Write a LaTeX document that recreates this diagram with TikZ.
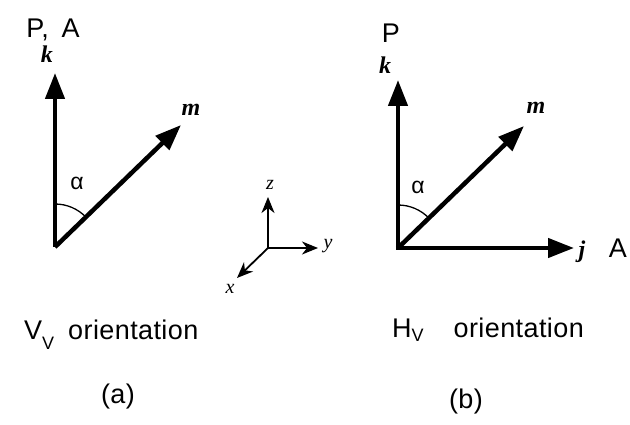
\documentclass[tikz,border=0pt]{standalone}
\usepackage{fontspec}
\setmainfont{Liberation Sans}[LetterSpace=1.5]
\newfontfamily\serifbi{Liberation Serif}[BoldItalicFont={* Bold Italic}]
\usetikzlibrary{arrows.meta}
\begin{document}
\begin{tikzpicture}[x=1pt,y=-1pt,
  vec/.style={line width=4.5pt,-{Triangle[length=26pt,width=19pt]}},
  axis/.style={line width=1.8pt,-{Stealth[length=16pt,width=13pt,inset=5pt]}},
  lab/.style={inner sep=0pt,font=\fontsize{27}{29}\selectfont},
  vlab/.style={inner sep=0pt,font=\fontsize{24}{26}\serifbi\bfseries\itshape},
  alab/.style={inner sep=0pt,font=\fontsize{20}{22}\serifbi\itshape},
  ang/.style={line width=1.3pt}]
\useasboundingbox (0,0) rectangle (630,425);
% panel (a)
\coordinate (oa) at (55,247);
\coordinate (ka) at (55,73);
\coordinate (ma) at (181,125);
\draw[vec] (oa) -- (ka);
\draw[vec] (oa) -- (ma);
\draw[ang] ([yshift=43pt]oa) arc[start angle=90,end angle=44,radius=43pt];
\node[lab] (pa) at (53,30) {P, \hspace{5pt}A};
\node[vlab] (kla) at (47,54) {k};
\node[vlab] (mla) at (191,110) {m};
\node[lab,font=\fontsize{23}{24}\selectfont] (ala) at (77,183) {α};
\node[lab,anchor=base west] (vv) at (24,339) {V\raisebox{-10pt}{\fontsize{18}{20}\selectfont V}\hspace{14pt}orientation};
\node[lab] (capa) at (118,397) {(a)};
% axes
\coordinate (oc) at (268,248);
\coordinate (zc) at (268,197);
\coordinate (yc) at (318,248);
\coordinate (xc) at (237,278);
\draw[axis] (oc) -- (zc);
\draw[axis] (oc) -- (yc);
\draw[axis] (oc) -- (xc);
\node[alab] (zl) at (270,185) {z};
\node[alab] (yl) at (328,246) {y};
\node[alab] (xl) at (230,289) {x};
% panel (b)
\coordinate (ob) at (398,248);
\coordinate (kb) at (398,80);
\coordinate (mb) at (524,126);
\coordinate (jb) at (574,248);
\draw[vec] (ob) -- (kb);
\draw[vec] ([xshift=-2.2pt]ob) -- (jb);
\draw[vec] (ob) -- (mb);
\draw[ang] ([yshift=43pt]ob) arc[start angle=90,end angle=44,radius=43pt];
\node[lab] (pb) at (391,33) {P};
\node[vlab] (klb) at (385,65) {k};
\node[vlab] (mlb) at (536,108) {m};
\node[lab,font=\fontsize{23}{24}\selectfont] (alb) at (418,187) {α};
\node[vlab] (jlb) at (582,252) {j};
\node[lab] (ab) at (618,248) {A};
\node[lab,anchor=base west] (hv) at (392,337) {H\raisebox{-5pt}{\fontsize{18}{20}\selectfont V}\hspace{30pt}orientation};
\node[lab] (capb) at (466,402) {(b)};
\end{tikzpicture}
\end{document}
